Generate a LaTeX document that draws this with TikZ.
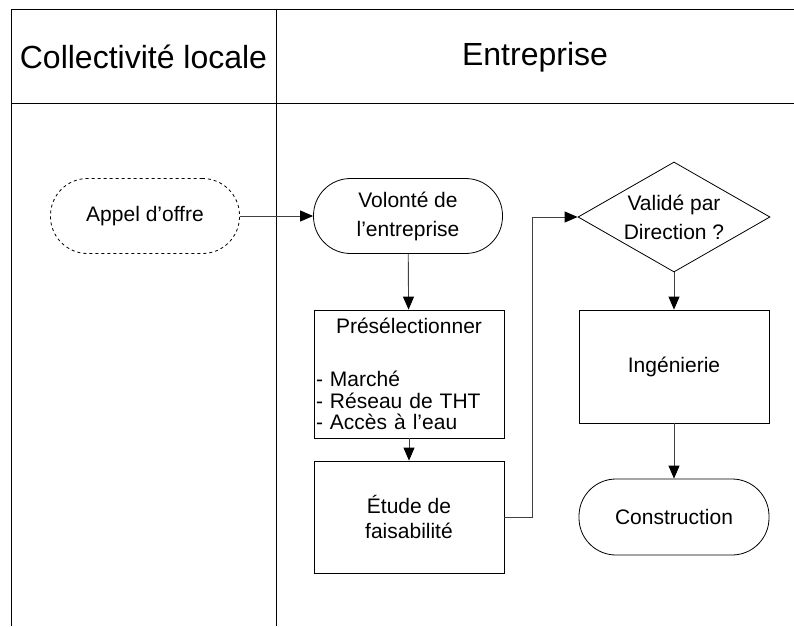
\documentclass[tikz,border=0pt]{standalone}
\usepackage{fontspec}
\setmainfont{Liberation Sans}
\usetikzlibrary{arrows.meta,shapes.geometric}

\begin{document}
\begin{tikzpicture}[x=1pt, y=-1pt,
  lane/.style={line width=1pt},
  term/.style={draw, line width=0.8pt, rounded corners=37pt, minimum width=189pt, minimum height=75pt, align=center, font=\fontsize{21}{29}\selectfont},
  proc/.style={draw, line width=0.8pt, minimum width=190pt, align=center, font=\fontsize{21}{25}\selectfont},
  decide/.style={draw, line width=0.8pt, diamond, aspect=1.75, inner sep=0pt, minimum width=192pt, minimum height=110pt, align=center, font=\fontsize{21}{29}\selectfont},
  head/.style={font=\fontsize{32}{38}\selectfont},
  edge/.style={-{Triangle[length=13pt, width=11pt, color=black]}, draw=black!75, line width=0.9pt}]
  \useasboundingbox (0,0) rectangle (794,626);
  % couloirs
  \draw[lane] (794,10) -- (11,10) -- (11,626);
  \draw[lane] (11,103) -- (794,103);
  \draw[lane] (276,10) -- (276,626);
  \node[head] (colloc) at (143.5,57) {Collectivité locale};
  \node[head] (entr) at (535,57) {Entreprise};
  % étapes
  \node[term, dashed] (appel) at (145,216) {Appel d’offre};
  \node[term] (volonte) at (408,216) {Volonté de\\l’entreprise};
  \node[proc, minimum height=128pt, align=left, text width=186pt, inner sep=2pt, font=\fontsize{21}{21.5}\selectfont] (presel) at (409,374)
    {\makebox[186pt]{Présélectionner}\\[32pt]- Marché\\- Réseau de THT\\- Accès à l’eau};
  \node[proc, minimum height=112pt] (etude) at (409,517) {Étude de\\faisabilité};
  \node[decide] (valide) at (674,217) {Validé par\\Direction ?};
  \node[proc, minimum height=113pt] (inge) at (674,366.5) {Ingénierie};
  \node[term, minimum width=190pt, minimum height=76pt] (constr) at (674,517) {Construction};
  % flèches
  \coordinate (coude) at (532,517);
  \draw[edge] (appel) -- (volonte);
  \draw[edge] (volonte) -- (presel);
  \draw[edge] (presel) -- (etude);
  \draw[edge] (etude.east) -- (coude) |- (valide.west);
  \draw[edge] (valide) -- (inge);
  \draw[edge] (inge) -- (constr);
\end{tikzpicture}
\end{document}
